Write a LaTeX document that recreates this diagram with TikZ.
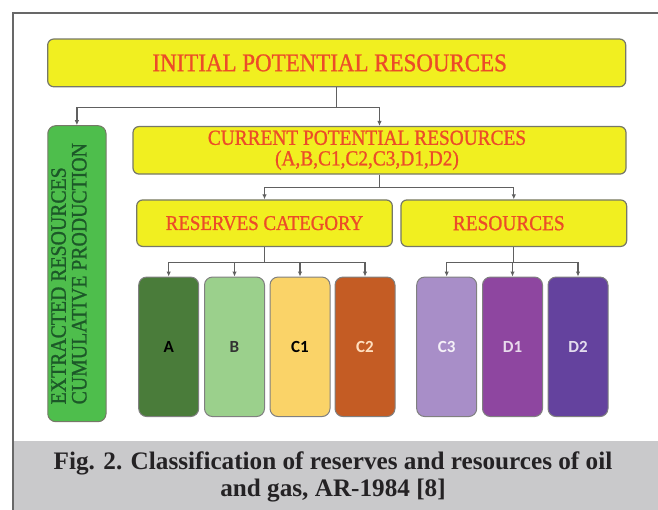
\documentclass[tikz,border=0pt]{standalone}
\usepackage{fontspec}
\setmainfont{Liberation Serif}
\newfontfamily\headfont[FakeStretch=0.9,FakeBold=1]{Liberation Serif}
\newfontfamily\catfont{Carlito}
\usetikzlibrary{arrows.meta}
\definecolor{boxyellow}{RGB}{241,239,32}
\definecolor{boxedge}{RGB}{118,120,104}
\definecolor{titlered}{RGB}{236,76,40}
\definecolor{extgreen}{RGB}{78,190,76}
\definecolor{extext}{RGB}{28,88,40}
\definecolor{linkgray}{RGB}{96,96,96}
\definecolor{framegray}{RGB}{104,104,104}
\definecolor{capgray}{RGB}{201,201,203}
\definecolor{captext}{RGB}{36,34,36}
\definecolor{catedge}{RGB}{128,128,128}
\definecolor{catA}{RGB}{74,124,58}
\definecolor{catB}{RGB}{155,208,140}
\definecolor{catCa}{RGB}{250,211,104}
\definecolor{catCb}{RGB}{196,92,36}
\definecolor{catCc}{RGB}{168,142,200}
\definecolor{catDa}{RGB}{142,70,160}
\definecolor{catDb}{RGB}{100,66,158}
\begin{document}
\begin{tikzpicture}[x=1pt,y=-1pt,
	head/.style={draw=boxedge,line width=1.2,fill=boxyellow,rounded corners=6,text=titlered,inner sep=0,align=center},
	cat/.style={draw=catedge,line width=1,rounded corners=8,minimum width=60,minimum height=139.5,inner sep=0,font=\catfont\bfseries\fontsize{17}{17}\selectfont},
	link/.style={draw=linkgray,line width=1.2,-{Latex[length=5,width=4.5]}}]
	\useasboundingbox (0,0) rectangle (658,510);

	%frame and caption band
	\fill[capgray] (13.5,441) rectangle (658,510);
	\draw[framegray,line width=2] (658,13) -- (12.5,13) -- (12.5,510); %frame

	%yellow boxes
	\node[head,minimum width=578,minimum height=47.7,font=\headfont\fontsize{25.5}{25}\selectfont] (initial) at (336.7,62.9) {INITIAL POTENTIAL RESOURCES\hspace*{14pt}};
	\node[head,minimum width=493,minimum height=47.5,font=\headfont\fontsize{21.5}{20.6}\selectfont] (current) at (379.5,150.3) {CURRENT POTENTIAL RESOURCES\hspace*{25pt}\\(A,B,C1,C2,C3,D1,D2)\hspace*{25pt}};
	\node[head,minimum width=255.6,minimum height=46.5,font=\headfont\fontsize{21}{21}\selectfont] (reserves) at (264.5,223.2) {RESERVES CATEGORY};
	\node[head,minimum width=225.7,minimum height=46.5,font=\headfont\fontsize{21.5}{21}\selectfont] (resources) at (513.8,223.2) {RESOURCES\hspace*{10pt}};

	%extracted
	\node[draw=boxedge,line width=1,fill=extgreen,rounded corners=8,minimum width=58.3,minimum height=296,inner sep=0,text=extext,font=\headfont\fontsize{22}{20.5}\selectfont] (extracted) at (76.9,273.7) {\rotatebox{90}{\begin{tabular}{@{}l@{}}EXTRACTED RESOURCES\\CUMULATIVE PRODUCTION\end{tabular}}\hspace*{10pt}};

	%categories
	\node[cat,fill=catA,text=black] (a) at (168.7,346.8) {A};
	\node[cat,fill=catB,text=black!80] (b) at (234.5,346.8) {B};
	\node[cat,fill=catCa,text=black] (c1) at (300,346.8) {C1};
	\node[cat,fill=catCb,text=orange!25] (c2) at (365,346.8) {C2};
	\node[cat,fill=catCc,text=white!88!catCc] (c3) at (446.7,346.8) {C3};
	\node[cat,fill=catDa,text=white!80!catDa] (d1) at (512.5,346.8) {D1};
	\node[cat,fill=catDb,text=white!82!catDb] (d2) at (578,346.8) {D2};

	%links
	\draw[link] (initial.south) -- ++(0,19.8) -| (extracted.north); %to extracted
	\draw[link] (initial.south) -- ++(0,19.8) -| (current.north); %to current
	\draw[link] (current.south) -- ++(0,12.7) -| (reserves.north);
	\draw[link] (current.south) -- ++(0,12.7) -| (resources.north);
	\draw[link] (reserves.south) -- ++(0,15.7) -| (a.north);
	\draw[link] (reserves.south) -- ++(0,15.7) -| (b.north);
	\draw[link] (reserves.south) -- ++(0,15.7) -| (c1.north);
	\draw[link] (reserves.south) -- ++(0,15.7) -| (c2.north);
	\draw[link] (resources.south) -- ++(0,15.7) -| (c3.north);
	\draw[link] (resources.south) -- ++(0,15.7) -| (d1.north);
	\draw[link] (resources.south) -- ++(0,15.7) -| (d2.north);

	%caption
	\node[text=captext,align=center,font=\bfseries\fontsize{25.2}{27}\selectfont] (caption) at (333,476.5) {Fig. 2. Classification of reserves and resources of oil\\and gas, AR-1984 [8]};
\end{tikzpicture}
\end{document}
